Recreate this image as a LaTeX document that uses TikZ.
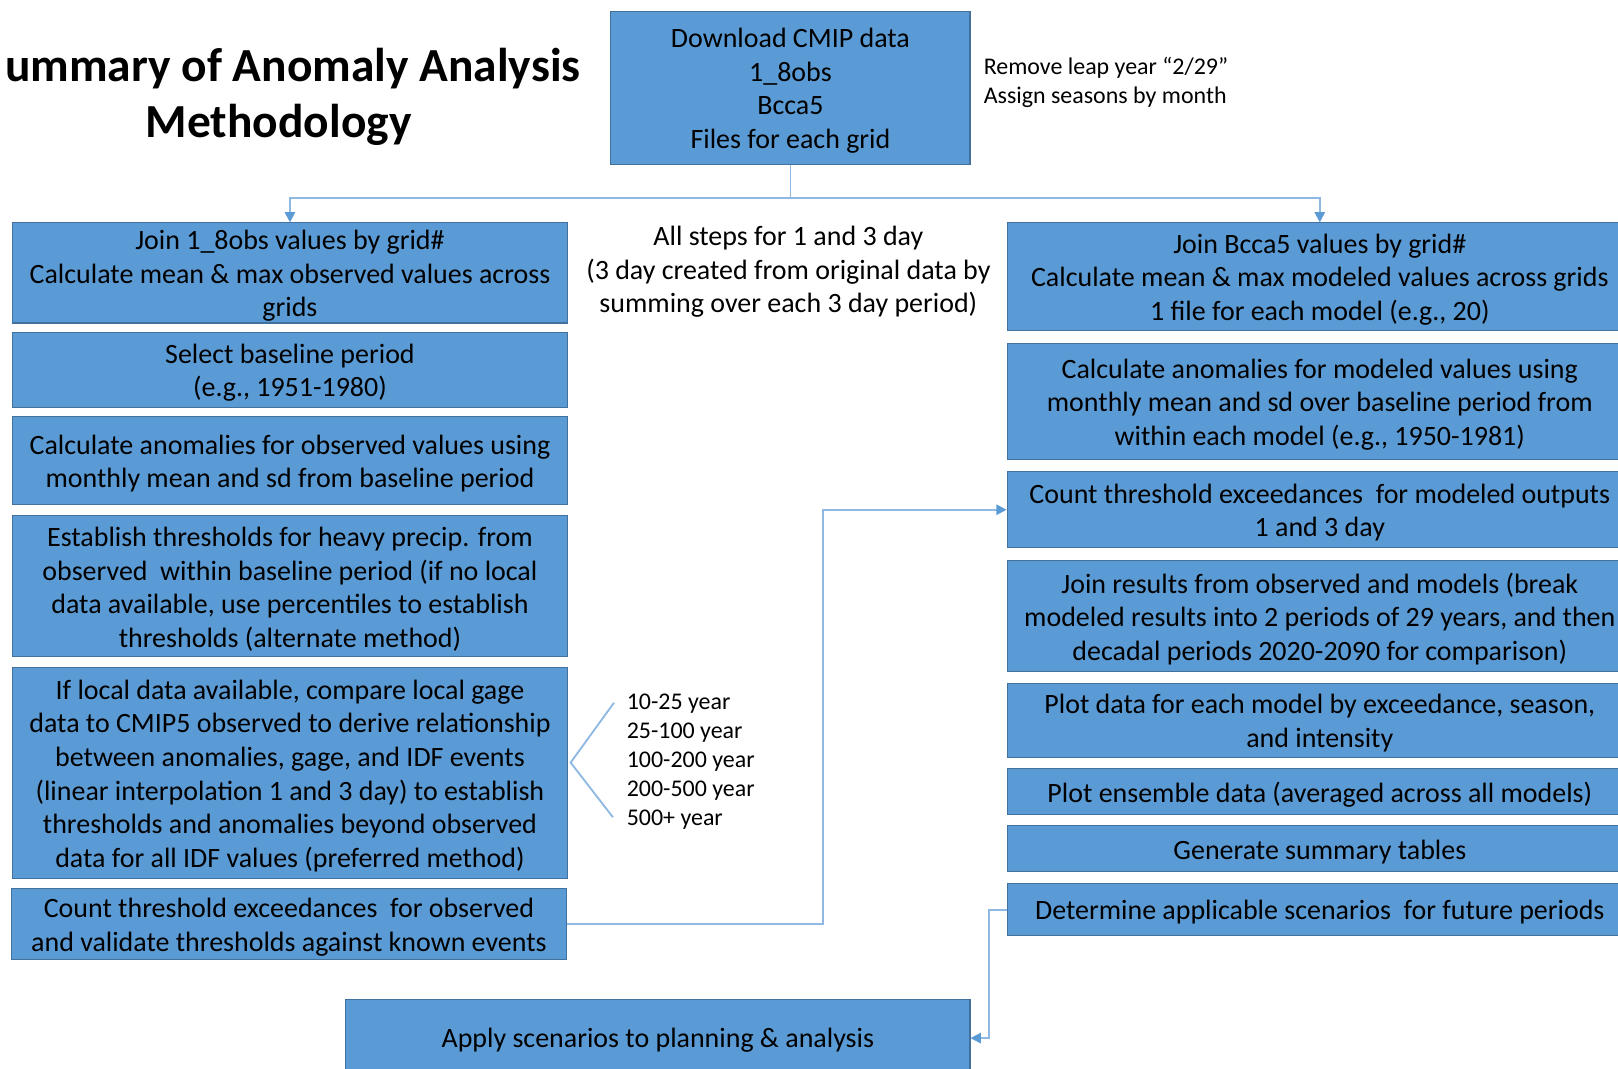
\documentclass[tikz,border=0pt]{standalone}
\usepackage{fontspec}
\setmainfont{Carlito}
\usetikzlibrary{arrows.meta}
\definecolor{boxfill}{HTML}{5B9BD5}
\definecolor{boxline}{HTML}{41719C}
\definecolor{connline}{HTML}{8FB8E3}
\definecolor{tipcol}{HTML}{5B9BD5}
\begin{document}
\begin{tikzpicture}[x=0.5pt,y=-0.5pt,
  box/.style={draw=boxline, fill=boxfill, line width=0.5pt, inner sep=0pt},
  lbox/.style={box, minimum width=269pt},
  rbox/.style={box, minimum width=303pt},
  btxt/.style={inner sep=0pt, align=center, text=black, font=\fontsize{13.55}{16.25}\selectfont},
  conn/.style={draw=connline, line width=0.9pt},
  arr/.style={conn, -{Triangle[width=5pt,length=5pt,color=tipcol]}},
  note/.style={inner sep=0pt, align=left, text=black, font=\fontsize{11.6}{14}\selectfont},
  cnote/.style={inner sep=0pt, align=center, text=black, font=\fontsize{13.55}{16.25}\selectfont},
  ttl/.style={inner sep=0pt, text=black, font=\bfseries\fontsize{23}{28}\selectfont}]
\useasboundingbox (0,0) rectangle (1568,1035);

% title
\node[ttl, anchor=east] (t1) at (563,66) {ummary of Anomaly Analysis};
\node[ttl] (t2) at (270,121) {Methodology};

% top
\node[box, minimum width=174pt, minimum height=74pt] (top) at (766,85) {};
\node[btxt] (topt) at ([yshift=-1.4pt]top.center)
  {Download CMIP data\\1\_8obs\\Bcca5\\Files for each grid};
\node[note, anchor=west] (side) at (953,80) {Remove leap year “2/29”\\Assign seasons by month};

% left column
\node[lbox, minimum height=48.5pt] (L1) at (281,264.5) {};
\node[btxt] (L1t) at ([yshift=-1.4pt]L1.center)
  {Join 1\_8obs values by grid\#\\Calculate mean \& max observed values across\\grids};
\node[lbox, minimum height=36.5pt] (L2) at (281,358.5) {};
\node[btxt] (L2t) at ([yshift=-1.4pt]L2.center)
  {Select baseline period\\(e.g., 1951-1980)};
\node[lbox, minimum height=42.5pt] (L3) at (281,446.5) {};
\node[btxt] (L3t) at ([yshift=-1.4pt]L3.center)
  {Calculate anomalies for observed values using\\monthly mean and sd from baseline period};
\node[lbox, minimum height=68pt] (L4) at (281,568) {};
\node[btxt] (L4t) at ([yshift=-1.4pt]L4.center)
  {Establish thresholds for heavy precip. from\\observed\ \ within baseline period (if no local\\data available, use percentiles to establish\\thresholds (alternate method)};
\node[lbox, minimum height=102pt] (L5) at (281,749) {};
\node[btxt] (L5t) at ([yshift=-1.4pt]L5.center)
  {If local data available, compare local gage\\data to CMIP5 observed to derive relationship\\between anomalies, gage, and IDF events\\(linear interpolation 1 and 3 day) to establish\\thresholds and anomalies beyond observed\\data for all IDF values (preferred method)};
\node[lbox, minimum height=34.5pt] (L6) at (280,895.5) {};
\node[btxt] (L6t) at ([yshift=-1.4pt]L6.center)
  {Count threshold exceedances\ \ for observed\\and validate thresholds against known events};

% center note
\node[cnote] (cn) at (764,263.5)
  {All steps for 1 and 3 day\\(3 day created from original data by\\summing over each 3 day period)};

% years
\node[note, anchor=west] (yrs) at (607,738)
  {10-25 year\\25-100 year\\100-200 year\\200-500 year\\500+ year};
\coordinate (bA) at (553,739);
\coordinate (bT) at (595,681);
\coordinate (bB) at (594,792);
\draw[conn] (bT) -- (bA) -- (bB);

% right column
\node[rbox, minimum height=52pt] (R1) at (1279,268) {};
\node[btxt] (R1t) at ([yshift=-1.4pt]R1.center)
  {Join Bcca5 values by grid\#\\Calculate mean \& max modeled values across grids\\1 file for each model (e.g., 20)};
\node[rbox, minimum height=56pt] (R2) at (1279,389) {};
\node[btxt] (R2t) at ([yshift=-1.4pt]R2.center)
  {Calculate anomalies for modeled values using\\monthly mean and sd over baseline period from\\within each model (e.g., 1950-1981)};
\node[rbox, minimum height=37pt] (R3) at (1279,494) {};
\node[btxt] (R3t) at ([yshift=-1.4pt]R3.center)
  {Count threshold exceedances\ \ for modeled outputs\\1 and 3 day};
\node[rbox, minimum height=54pt] (R4) at (1279,597) {};
\node[btxt] (R4t) at ([yshift=-1.4pt]R4.center)
  {Join results from observed and models (break\\modeled results into 2 periods of 29 years, and then\\decadal periods 2020-2090 for comparison)};
\node[rbox, minimum height=36pt] (R5) at (1279,698) {};
\node[btxt] (R5t) at ([yshift=-1.4pt]R5.center)
  {Plot data for each model by exceedance, season,\\and intensity};
\node[rbox, minimum height=22pt] (R6) at (1279,767) {};
\node[btxt] (R6t) at ([yshift=-1.4pt]R6.center)
  {Plot ensemble data (averaged across all models)};
\node[rbox, minimum height=22.5pt] (R7) at (1279,822.5) {};
\node[btxt] (R7t) at ([yshift=-1.4pt]R7.center)
  {Generate summary tables};
\node[rbox, minimum height=25.5pt] (R8) at (1279,881.5) {};
\node[btxt] (R8t) at ([yshift=-1.4pt]R8.center)
  {Determine applicable scenarios\ \ for future periods};

% bottom
\node[box, minimum width=302.5pt, minimum height=37pt] (B) at (637.5,1006) {};
\node[btxt] (Bt) at ([yshift=-1.0pt]B.center)
  {Apply scenarios to planning \& analysis};

% connectors
\coordinate (split) at (766,192);
\draw[conn] (top.south) -- (split);
\draw[arr] (split) -| (L1.north);
\draw[arr] (split) -| (R1.north);
\draw[arr] (L6.east) -- ++(248,0) |- (R3.west);
\draw[arr] (R8.west) -- ++(-17,0) |- (B.east);
\end{tikzpicture}
\end{document}
